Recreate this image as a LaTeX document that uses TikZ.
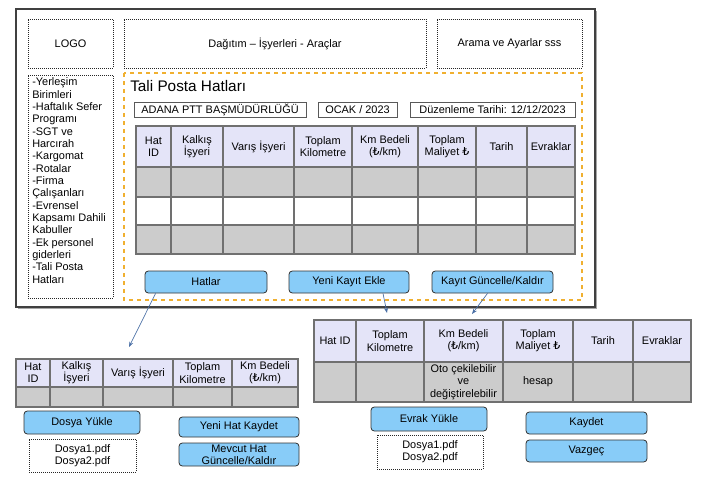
\documentclass[tikz,border=0pt]{standalone}
\usepackage{fontspec}
\setmainfont{Liberation Sans}
\newfontfamily\djvfont{DejaVu Sans}
\newcommand{\lira}{{\djvfont ₺}}
\usetikzlibrary{arrows.meta}
\definecolor{btnc}{HTML}{88CCF8}
\definecolor{hdrc}{HTML}{E4E4F8}
\definecolor{rowc}{HTML}{CCCCCC}
\definecolor{gridc}{HTML}{707070}
\definecolor{orngc}{HTML}{F0B030}
\definecolor{arrc}{HTML}{4A6FA5}
\newcommand{\mybox}[7]{\node[#6, minimum width={(#4-#2)*0.75pt}, minimum height={(#5-#3)*0.75pt}, inner sep=0pt, align=center] (#1) at ({(#2+#4)/2},{(#3+#5)/2}) {#7};}
\begin{document}
\begin{tikzpicture}[x=0.75pt,y=-0.75pt,
  font=\fontsize{8.2}{9.2}\selectfont,
  dotbox/.style={draw=black!85, densely dotted, line width=0.5pt},
  solbox/.style={draw=black!65, line width=0.5pt},
  btnbox/.style={draw=black!80, fill=btnc, rounded corners=2.5pt, line width=0.6pt},
  gridline/.style={draw=gridc, line width=0.8pt},
  conn/.style={draw=arrc, line width=0.5pt, -{Stealth[length=4pt,width=3pt]}},
  cell/.style={align=center, inner sep=0pt}]
\useasboundingbox (0,0) rectangle (707,486);
% main frame with shadow
\fill[black!35] (18,11) rectangle (597,309);
\filldraw[fill=white, draw=black!75, line width=0.8pt] (16,9) rectangle (595,307);
% top boxes
\mybox{logo}{28}{19}{113}{68}{dotbox}{LOGO}
\mybox{menu}{124}{19}{426}{68}{dotbox}{Dağıtım – İşyerleri - Araçlar}
\mybox{search}{437}{19}{582}{68}{dotbox}{Arama ve Ayarlar sss}
\mybox{side}{28}{75}{113}{298}{dotbox}{}
\node[anchor=north west, align=left, inner sep=0pt, font=\fontsize{8.2}{9.25}\selectfont] (sidetxt) at (32,77.5) {-Yerleşim\\Birimleri\\-Haftalık Sefer\\Programı\\-SGT ve\\Harcırah\\-Kargomat\\-Rotalar\\-Firma\\Çalışanları\\-Evrensel\\Kapsamı Dahili\\Kabuller\\-Ek personel\\giderleri\\-Tali Posta\\Hatları};
% orange panel
\draw[draw=orngc, dashed, line width=0.8pt] (124,73) rectangle (582,300);
\node[anchor=west, inner sep=0pt, font=\fontsize{11.5}{13}\selectfont] (title) at (130,86) {Tali Posta Hatları};
\mybox{adana}{134}{102}{306}{117}{solbox}{ADANA PTT BAŞMÜDÜRLÜĞÜ}
\mybox{ocak}{318}{102}{397}{117}{solbox}{OCAK / 2023}
\mybox{duz}{410}{102}{575}{117}{solbox}{Düzenleme Tarihi: 12/12/2023}
% top table
\fill[hdrc] (136,126) rectangle (575,167);
\fill[rowc] (136,167) rectangle (575,197);
\fill[rowc] (136,225) rectangle (575,254);
\foreach \yy in {167,197,225} \draw[gridline] (136,\yy) -- (575,\yy);
\foreach \xx in {171,223,294,352,418,476,527} \draw[gridline] (\xx,126) -- (\xx,254);
\draw[gridline] (136,126) rectangle (575,254);
\foreach \a/\b/\t [count=\i] in {136/171/{Hat\\ID},171/223/{Kalkış\\İşyeri},223/294/{Varış İşyeri},294/352/{Toplam\\Kilometre},352/418/{Km Bedeli\\(\lira/km)},418/476/{Toplam\\Maliyet \lira},476/527/{Tarih},527/575/{Evraklar}}
  \node[cell] (ta\i) at ({(\a+\b)/2},146.5) {\t};
% buttons in panel
\mybox{hatlar}{145}{271}{267}{293}{btnbox}{Hatlar}
\mybox{yeni}{289}{271}{409}{293}{btnbox}{Yeni Kayıt Ekle}
\mybox{guncel}{432}{271}{553}{293}{btnbox}{Kayıt Güncelle/Kaldır}
% connectors
\coordinate (e1) at (129,347);
\coordinate (e2) at (387,313);
\coordinate (e3) at (472,314);
\draw[conn] (hatlar.south west) ++(11,0) -- (e1);
\draw[conn] (yeni.south) ++(34,0) -- (e2);
\draw[conn] (guncel.south) ++(-5,0) -- (e3);
% bottom-left table
\fill[hdrc] (16,359) rectangle (298,387);
\fill[rowc] (16,387) rectangle (298,407);
\draw[gridline] (16,387) -- (298,387);
\foreach \xx in {50,103,173,232} \draw[gridline] (\xx,359) -- (\xx,407);
\draw[gridline] (16,359) rectangle (298,407);
\foreach \a/\b/\t [count=\i] in {16/50/{Hat\\ID},50/103/{Kalkış\\İşyeri},103/173/{Varış İşyeri},173/232/{Toplam\\Kilometre},232/298/{Km Bedeli\\(\lira/km)}}
  \node[cell] (tb\i) at ({(\a+\b)/2},373) {\t};
\mybox{dosya}{24}{411}{140}{434}{btnbox}{Dosya Yükle}
\mybox{files1}{29}{439}{136}{472}{dotbox}{Dosya1.pdf\\Dosya2.pdf}
\mybox{yenihat}{179}{417}{299}{437}{btnbox}{Yeni Hat Kaydet}
\mybox{mevcut}{179}{443}{299}{466}{btnbox}{Mevcut Hat\\Güncelle/Kaldır}
% bottom-right table
\fill[hdrc] (314,320) rectangle (691,362);
\fill[rowc] (314,362) rectangle (691,402);
\draw[gridline] (314,362) -- (691,362);
\foreach \xx in {356,424,503,573,633} \draw[gridline] (\xx,320) -- (\xx,402);
\draw[gridline] (314,320) rectangle (691,402);
\foreach \a/\b/\t [count=\i] in {314/356/{Hat ID},356/424/{Toplam\\Kilometre},424/503/{Km Bedeli\\(\lira/km)},503/573/{Toplam\\Maliyet \lira},573/633/{Tarih},633/691/{Evraklar}}
  \node[cell] (tc\i) at ({(\a+\b)/2},341) {\t};
\node[cell] (oto) at (463.5,382) {Oto çekilebilir\\ve\\değiştirelebilir};
\node[cell] (hesap) at (538,382) {hesap};
\mybox{evrak}{371}{407}{487}{431}{btnbox}{Evrak Yükle}
\mybox{files2}{377}{435}{483}{469}{dotbox}{Dosya1.pdf\\Dosya2.pdf}
\mybox{kaydet}{526}{412}{647}{434}{btnbox}{Kaydet}
\mybox{vazgec}{526}{440}{647}{462}{btnbox}{Vazgeç}
\end{tikzpicture}
\end{document}
